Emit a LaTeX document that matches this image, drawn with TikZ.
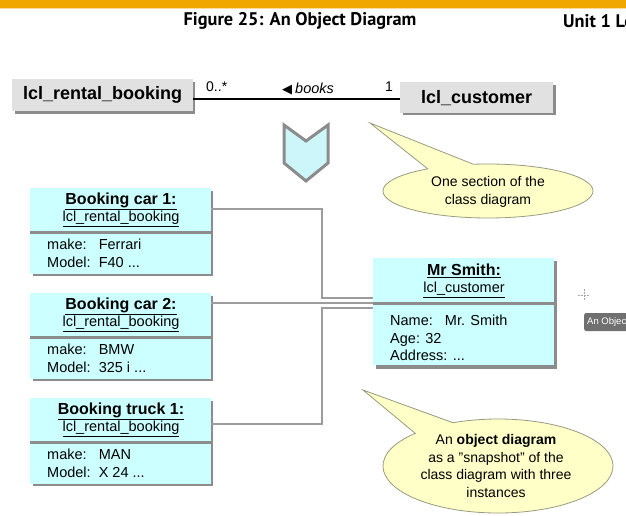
\documentclass[tikz,border=0pt]{standalone}
\usepackage{fontspec}
\setmainfont{Liberation Sans}
\newfontfamily\titlefont{PT Sans}
\newfontfamily\symfont{DejaVu Sans}
\usetikzlibrary{calc}
\definecolor{barorange}{HTML}{F0A800}
\definecolor{classfill}{HTML}{E1E1E1}
\definecolor{objfill}{HTML}{CCFFFF}
\definecolor{shadowgray}{HTML}{8C8C8C}
\definecolor{callfill}{HTML}{FFFFC8}
\definecolor{callline}{HTML}{9A9A80}
\definecolor{chevfill}{HTML}{CCF6FA}
\definecolor{conngray}{HTML}{9C9C9C}
\definecolor{tipgray}{HTML}{707070}
\tikzset{
  classbox/.style={fill=classfill, inner sep=0pt, font=\fontsize{18}{20}\selectfont\bfseries},
  objbox/.style={fill=objfill, inner sep=0pt, anchor=north west},
  boxshadow/.style={fill=shadowgray},
  divider/.style={draw=shadowgray, line width=3pt},
  objhead/.style={font=\fontsize{14.5}{17}\selectfont, align=center, inner sep=0pt, anchor=north},
  objattr/.style={font=\fontsize{14.5}{17.5}\selectfont, align=left, inner sep=0pt, anchor=north west},
  conn/.style={draw=conngray, line width=1.1pt},
  callout/.style={fill=callfill, draw=callline, line width=0.8pt},
  calltext/.style={font=\fontsize{14}{17.5}\selectfont, align=center, inner sep=0pt},
  assoclabel/.style={font=\fontsize{14}{16}\selectfont, inner sep=0pt},
}
\newcommand{\ul}[1]{\underline{#1}}
\newcommand{\mydots}{...}
\newcommand{\hb}[1]{{\fontsize{16}{17}\selectfont\bfseries\ul{#1}}}
\begin{document}
\begin{tikzpicture}[x=1pt,y=-1pt]
\useasboundingbox (0,0) rectangle (626,516);
\fill[white] (0,0) rectangle (626,516);
% top bar
\fill[barorange] (0,0) rectangle (626,8);
\fill[barorange!40] (0,8) rectangle (626,9);
\node[font=\titlefont\fontsize{18.3}{20}\selectfont\bfseries, inner sep=0pt] (title) at (300,21) {Figure 25: An Object Diagram};
\node[font=\titlefont\fontsize{18.3}{20}\selectfont\bfseries, inner sep=0pt, anchor=west] (unit) at (563,21) {Unit 1 Le};

% class boxes
\fill[boxshadow] (15,82) rectangle (195,114);
\node[classbox, minimum width=181pt, minimum height=32pt, anchor=north west] (rb) at (12,79) {lcl\_rental\_booking};
\fill[boxshadow] (403,85) rectangle (556,115);
\node[classbox, minimum width=153pt, minimum height=31pt, anchor=north west] (cu) at (400,82) {lcl\_customer};
\draw[line width=1.2pt] (rb.east |- 0,99) -- (cu.west |- 0,99);
\node[assoclabel, anchor=base west] (m1) at (206,92) {0..*};
\node[assoclabel, anchor=base west] (bk) at (282,94) {{\symfont\fontsize{13}{14}\selectfont ◀}\hspace{3pt}{\fontsize{14.5}{16}\selectfont\itshape books}};
\node[assoclabel, anchor=base east] (m2) at (393,92) {1};

% chevron
\draw[fill=chevfill, draw=shadowgray, line width=3pt, line join=miter]
  (284,125) -- (306,141) -- (328,125) -- (328,163) -- (306,181) -- (284,163) -- cycle;

% callout 1
\path[callout] (370,123) -- ($(488,191)+({105*cos(235)},{27*sin(235)})$)
  arc[start angle=235, end angle=-98, x radius=105, y radius=27] -- cycle;
\node[calltext] (c1) at (488,192) {One section of the\\class diagram};

% object boxes
\foreach \n/\y/\t/\a/\b in {b1/188/Booking car 1:/Ferrari/F40 \mydots,
                           b2/293/Booking car 2:/BMW/325 i \mydots,
                           b3/398/Booking truck 1:/MAN/X 24 \mydots}{
  \fill[boxshadow] (33,\y+3) rectangle (213,\y+88);
  \node[objbox, minimum width=181pt, minimum height=86pt] (\n) at (30,\y) {};
  \draw[divider] (30,\y+44) -- (211,\y+44);
  \node[objhead] (\n h) at (121,\y+4.5) {\hb{\t}\\[0pt]\ul{lcl\_rental\_booking}};
  \node[objattr] (\n a) at (47,\y+51) {make:\ \ \ \a\\Model:\ \ \b};
}

% Mr Smith box
\fill[boxshadow] (376,261) rectangle (557,369);
\node[objbox, minimum width=181pt, minimum height=107pt] (ms) at (373,258) {};
\draw[divider] (373,303) -- (555,303);
\node[objhead] (msh) at (464,264) {\hb{Mr Smith:}\\[0pt]\ul{lcl\_customer}};
\node[objattr] (msa) at (390,315) {Name:\ \ \ Mr. Smith\\Age: 32\\Address: \mydots};

% connectors
\draw[conn] ($(b1.north east)+(0,21)$) -| (322,298) -- ($(ms.north west)+(0,40)$);
\draw[conn] ($(b2.north east)+(0,10)$) -- ($(ms.north west)+(0,45)$);
\draw[conn] ($(b3.north east)+(0,26)$) -| (322,308) -- ($(ms.north west)+(0,50)$);

% callout 2
\path[callout] (363,390) -- ($(498,466)+({115*cos(224)},{47*sin(224)})$)
  arc[start angle=224, end angle=-113, x radius=115, y radius=47] -- cycle;
\node[calltext] (c2) at (496,466) {An \textbf{object diagram}\\as a "snapshot" of the\\class diagram with three\\instances};

% cursor and tooltip
\draw[gray!70, line width=0.6pt, dash pattern=on 2pt off 1pt] (578,295) -- (590,295) (584,289) -- (584,301);
\node[fill=tipgray, rounded corners=2pt, text=white, font=\fontsize{9.5}{11}\selectfont, inner sep=3pt, anchor=west, minimum height=18pt] (tip) at (584,322) {An Object};
\end{tikzpicture}
\end{document}
